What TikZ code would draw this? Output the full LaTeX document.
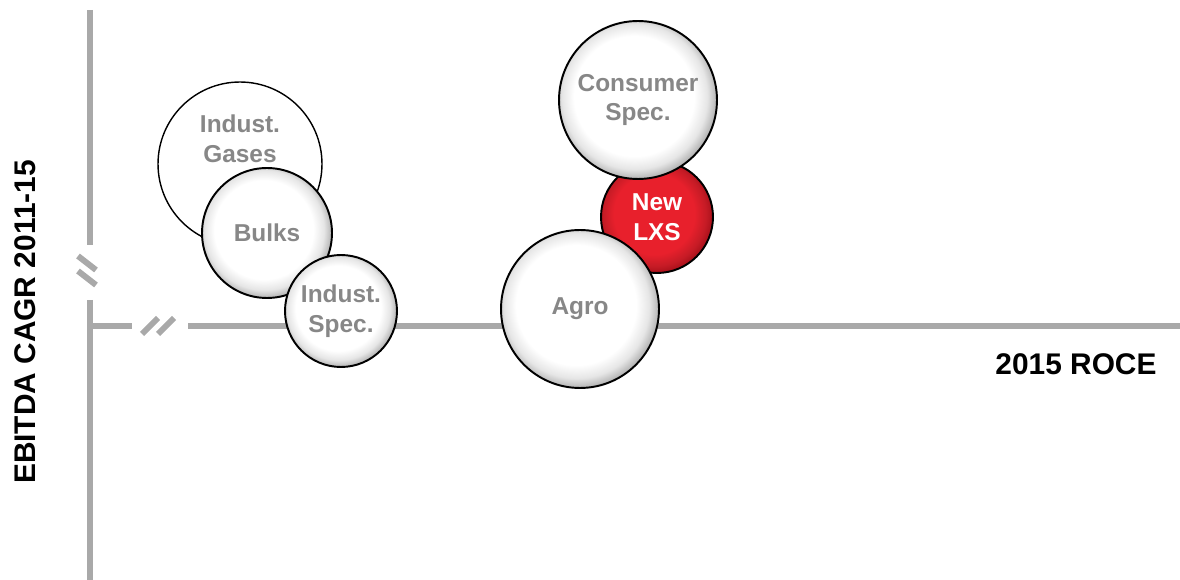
\documentclass[tikz,border=0pt]{standalone}
\usepackage{fontspec}
\setmainfont{Liberation Sans}
\usepackage{xcolor}
\usepackage{tikz}

\definecolor{axisgray}{HTML}{A9A9A9}
\definecolor{labelgray}{HTML}{878787}
\definecolor{lxsred}{HTML}{E8202C}
\definecolor{lxsdark}{HTML}{A8101A}

\pgfdeclareradialshading{bubbleshade}{\pgfpoint{-2bp}{2bp}}{%
  color(0bp)=(white); color(19bp)=(white); color(23bp)=(gray!20);
  color(26bp)=(gray!60); color(50bp)=(gray!60)}
\pgfdeclareradialshading{redshade}{\pgfpoint{-2bp}{2bp}}{%
  color(0bp)=(lxsred); color(18bp)=(lxsred); color(23bp)=(lxsred!85!black);
  color(26bp)=(lxsdark); color(50bp)=(lxsdark)}

\begin{document}
\begin{tikzpicture}[x=0.02cm, y=-0.02cm,
    axis/.style={draw=axisgray, line width=0.12cm},
    bubble/.style={circle, draw=black, line width=1.1pt, shading=bubbleshade,
        align=center, text=labelgray, font=\fontsize{13.9}{17}\selectfont\bfseries},
    redbubble/.style={bubble, shading=redshade, text=white},
    plainbubble/.style={circle, draw=black, line width=0.8pt, fill=white},
    bubbletext/.style={align=center, text=labelgray, font=\fontsize{13.9}{17}\selectfont\bfseries},
    axislabel/.style={font=\fontsize{17}{20}\selectfont\bfseries}]
    \useasboundingbox (0,0) rectangle (1180,580);

    % axes with breaks
    \draw[axis] (90,10) -- (90,245);
    \draw[axis] (90,300) -- (90,580);
    \draw[axis] (90,326) -- (132,326);
    \draw[axis] (188,326) -- (1180,326);
    \draw[axis] (78,256) -- (96,270);
    \draw[axis] (78,271) -- (96,285);
    \draw[axis] (142,334) -- (158,318);
    \draw[axis] (158,334) -- (174,318);

    \node[axislabel, rotate=90] (ylabel) at (25,322) {EBITDA CAGR 2011-15};
    \node[axislabel] (xlabel) at (1076,364) {2015 ROCE};

    % bubbles
    \node[plainbubble, minimum size=3.28cm] (gases) at (240,164) {};
    \node[bubbletext] (gasestext) at (240,139) {Indust.\\Gases};
    \node[bubble, minimum size=2.6cm] (bulks) at (267,233) {Bulks};
    \node[bubble, minimum size=2.24cm] (spec) at (341,311) {Indust.\\Spec.};
    \node[redbubble, minimum size=2.24cm] (lxs) at (657,217) {New\\LXS};
    \node[bubble, minimum size=3.16cm] (consumer) at (638,100) {Consumer\\Spec.};
    \node[bubble, minimum size=3.16cm] (agro) at (580,309) {Agro};
\end{tikzpicture}
\end{document}
